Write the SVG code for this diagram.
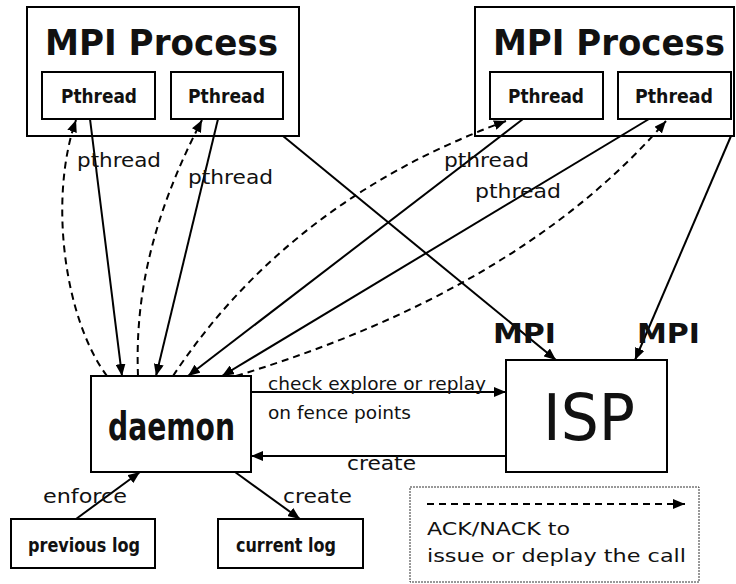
<svg xmlns="http://www.w3.org/2000/svg" width="736" height="584" viewBox="0 0 736 584">
<style>
.box{fill:#fff;stroke:#000;stroke-width:2}
.t{font-family:"DejaVu Sans","Liberation Sans",sans-serif;fill:#111}
.b{font-weight:bold}
.ln{fill:none;stroke:#000;stroke-width:2}
.ds{fill:none;stroke:#000;stroke-width:2;stroke-dasharray:7,5}
</style>
<defs>
<marker id="ah" viewBox="0 0 12 10" refX="12" refY="5" markerWidth="12" markerHeight="10" markerUnits="userSpaceOnUse" orient="auto">
<path d="M0,0 L12,5 L0,10 Z" fill="#000"/>
</marker>
</defs>
<rect width="736" height="584" fill="#fff"/>
<g id="mpi-left">
<rect class="box" x="27" y="7" width="272" height="129"/>
<text class="t b" x="45" y="55" font-size="35" textLength="233" lengthAdjust="spacingAndGlyphs">MPI Process</text>
</g>
<g id="pthread-l1">
<rect class="box" x="42" y="72" width="113" height="47"/>
<text class="t b" x="61" y="103" font-size="20" textLength="76" lengthAdjust="spacingAndGlyphs">Pthread</text>
</g>
<g id="pthread-l2">
<rect class="box" x="171" y="72" width="112" height="47"/>
<text class="t b" x="188" y="103" font-size="20" textLength="77" lengthAdjust="spacingAndGlyphs">Pthread</text>
</g>
<g id="mpi-right">
<rect class="box" x="475" y="7" width="259" height="129"/>
<text class="t b" x="493" y="55" font-size="35" textLength="232" lengthAdjust="spacingAndGlyphs">MPI Process</text>
</g>
<g id="pthread-r1">
<rect class="box" x="490" y="72" width="113" height="47"/>
<text class="t b" x="508" y="103" font-size="20" textLength="76" lengthAdjust="spacingAndGlyphs">Pthread</text>
</g>
<g id="pthread-r2">
<rect class="box" x="618" y="72" width="113" height="47"/>
<text class="t b" x="635" y="103" font-size="20" textLength="78" lengthAdjust="spacingAndGlyphs">Pthread</text>
</g>
<g id="daemon">
<rect class="box" x="91" y="376" width="160" height="96"/>
<text class="t b" transform="translate(108,440) scale(1,1.13)" x="0" y="0" font-size="35" textLength="127" lengthAdjust="spacingAndGlyphs">daemon</text>
</g>
<g id="isp">
<rect class="box" x="506" y="360" width="161" height="112"/>
<text class="t" x="543" y="440" font-size="64" textLength="92" lengthAdjust="spacingAndGlyphs">ISP</text>
</g>
<g id="previous-log">
<rect class="box" x="11" y="519" width="144" height="49"/>
<text class="t b" x="28" y="552" font-size="19" textLength="112" lengthAdjust="spacingAndGlyphs">previous log</text>
</g>
<g id="current-log">
<rect class="box" x="218" y="519" width="145" height="49"/>
<text class="t b" x="236" y="552" font-size="19" textLength="100" lengthAdjust="spacingAndGlyphs">current log</text>
</g>
<g id="legend">
<rect x="410" y="487" width="289" height="95" fill="none" stroke="#333" stroke-width="1" stroke-dasharray="2,1"/>
<line class="ds" x1="427" y1="504" x2="685" y2="504" marker-end="url(#ah)"/>
<text class="t" x="427" y="535" font-size="18" textLength="143" lengthAdjust="spacingAndGlyphs">ACK/NACK to</text>
<text class="t" x="427" y="562" font-size="18" textLength="259" lengthAdjust="spacingAndGlyphs">issue or deplay the call</text>
</g>
<g id="connectors">
<line class="ln" x1="90" y1="119" x2="122" y2="376" marker-end="url(#ah)"/>
<path class="ds" d="M107,376 C65,320 48,200 76,120" marker-end="url(#ah)"/>
<line class="ln" x1="218" y1="119" x2="156" y2="376" marker-end="url(#ah)"/>
<path class="ds" d="M138,376 C135,300 150,220 202,120" marker-end="url(#ah)"/>
<line class="ln" x1="523" y1="119" x2="188" y2="376" marker-end="url(#ah)"/>
<path class="ds" d="M173,376 Q290,200 506,121" marker-end="url(#ah)"/>
<line class="ln" x1="649" y1="119" x2="222" y2="376" marker-end="url(#ah)"/>
<path class="ds" d="M236,376 Q520,290 666,121" marker-end="url(#ah)"/>
<line class="ln" x1="283" y1="136" x2="556" y2="360" marker-end="url(#ah)"/>
<line class="ln" x1="731" y1="136" x2="635" y2="360" marker-end="url(#ah)"/>
<line class="ln" x1="251" y1="392" x2="506" y2="392" marker-end="url(#ah)"/>
<line class="ln" x1="506" y1="456" x2="251" y2="456" marker-end="url(#ah)"/>
<line class="ln" x1="76" y1="519" x2="140" y2="472" marker-end="url(#ah)"/>
<line class="ln" x1="235" y1="472" x2="300" y2="519" marker-end="url(#ah)"/>
<text class="t" x="77" y="167" font-size="20" textLength="84" lengthAdjust="spacingAndGlyphs">pthread</text>
<text class="t" x="188" y="184" font-size="20" textLength="85" lengthAdjust="spacingAndGlyphs">pthread</text>
<text class="t" x="444" y="167" font-size="20" textLength="85" lengthAdjust="spacingAndGlyphs">pthread</text>
<text class="t" x="475" y="198" font-size="20" textLength="86" lengthAdjust="spacingAndGlyphs">pthread</text>
<text class="t b" x="493" y="343" font-size="27" textLength="63" lengthAdjust="spacingAndGlyphs">MPI</text>
<text class="t b" x="637" y="343" font-size="27" textLength="63" lengthAdjust="spacingAndGlyphs">MPI</text>
<text class="t" x="268" y="390" font-size="17" textLength="218" lengthAdjust="spacingAndGlyphs">check explore or replay</text>
<text class="t" x="268" y="419" font-size="17" textLength="143" lengthAdjust="spacingAndGlyphs">on fence points</text>
<text class="t" x="347" y="470" font-size="19" textLength="69" lengthAdjust="spacingAndGlyphs">create</text>
<text class="t" x="43" y="503" font-size="20" textLength="84" lengthAdjust="spacingAndGlyphs">enforce</text>
<text class="t" x="283" y="503" font-size="20" textLength="69" lengthAdjust="spacingAndGlyphs">create</text>
</g>
</svg>
